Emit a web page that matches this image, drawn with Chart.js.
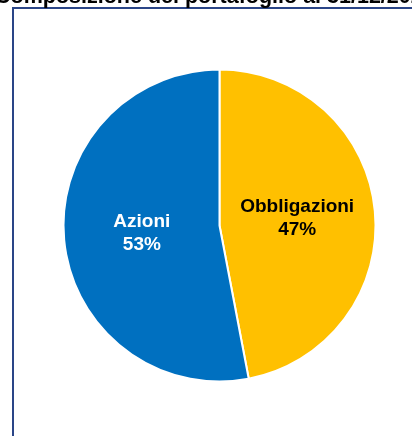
<!DOCTYPE html>
<html>
<head>
<meta charset="utf-8">
<script src="https://cdn.jsdelivr.net/npm/chart.js@4"></script>
<style>
  html, body { margin: 0; padding: 0; background: #fff; }
  #wrap { width: 412px; height: 436px; position: relative; }
</style>
</head>
<body>
<div id="wrap"><canvas id="pie-chart"></canvas></div>
<script>
const title = "Composizione del portafoglio al 31/12/2021";
const labels = ["Obbligazioni", "Azioni"];
const values = [47, 53];
const colors = ["#FFC000", "#0070C0"];
const textColors = ["#000000", "#FFFFFF"];

const ctx = document.getElementById("pie-chart");

// frame + cut-off title drawn on the canvas
const framePlugin = {
    id: "frame",
    beforeDraw(chart) {
        const c = chart.ctx;
        c.save();
        c.fillStyle = "#fff";
        c.fillRect(0, 0, chart.width, chart.height);
        c.strokeStyle = "#2A4587";
        c.lineWidth = 2;
        c.beginPath();
        c.moveTo(13, chart.height + 5);
        c.lineTo(13, 8);
        c.lineTo(chart.width + 5, 8);
        c.stroke();
        c.fillStyle = "#000";
        c.font = "bold 21.5px 'Liberation Sans', Arial, sans-serif";
        c.textBaseline = "alphabetic";
        c.textAlign = "left";
        c.fillText(title, -5, 3);
        c.restore();
    },
};

// slice labels at half radius along the middle angle
const sliceLabels = {
    id: "sliceLabels",
    afterDatasetsDraw(chart) {
        const c = chart.ctx;
        const meta = chart.getDatasetMeta(0);
        const total = values.reduce((a, b) => a + b, 0);
        c.save();
        c.font = "bold 19px 'Liberation Sans', Arial, sans-serif";
        c.textAlign = "center";
        c.textBaseline = "middle";
        meta.data.forEach((arc, i) => {
            const p = arc.getProps(["x", "y", "startAngle", "endAngle", "outerRadius"], true);
            const mid = (p.startAngle + p.endAngle) / 2;
            const r = p.outerRadius * 0.5;
            const x = p.x + Math.cos(mid) * r;
            const y = p.y + Math.sin(mid) * r;
            c.fillStyle = textColors[i];
            c.fillText(labels[i], x, y - 11);
            c.fillText(Math.round(values[i] / total * 100) + "%", x, y + 12);
        });
        c.restore();
    },
};

const data = {
    labels,
    datasets: [
        {
            data: values,
            backgroundColor: colors,
            borderColor: "#FFFFFF",
            borderWidth: 2,
        },
    ],
};

const config = {
    type: "pie",
    data,
    options: {
        responsive: false,
        animation: false,
        radius: 156,
        layout: { padding: { left: 40, right: 13, top: 30, bottom: 15 } },
        plugins: {
            legend: { display: false },
            tooltip: { enabled: false },
        },
    },
    plugins: [framePlugin, sliceLabels],
};

ctx.width = 412;
ctx.height = 436;
new Chart(ctx, config);
</script>
</body>
</html>
